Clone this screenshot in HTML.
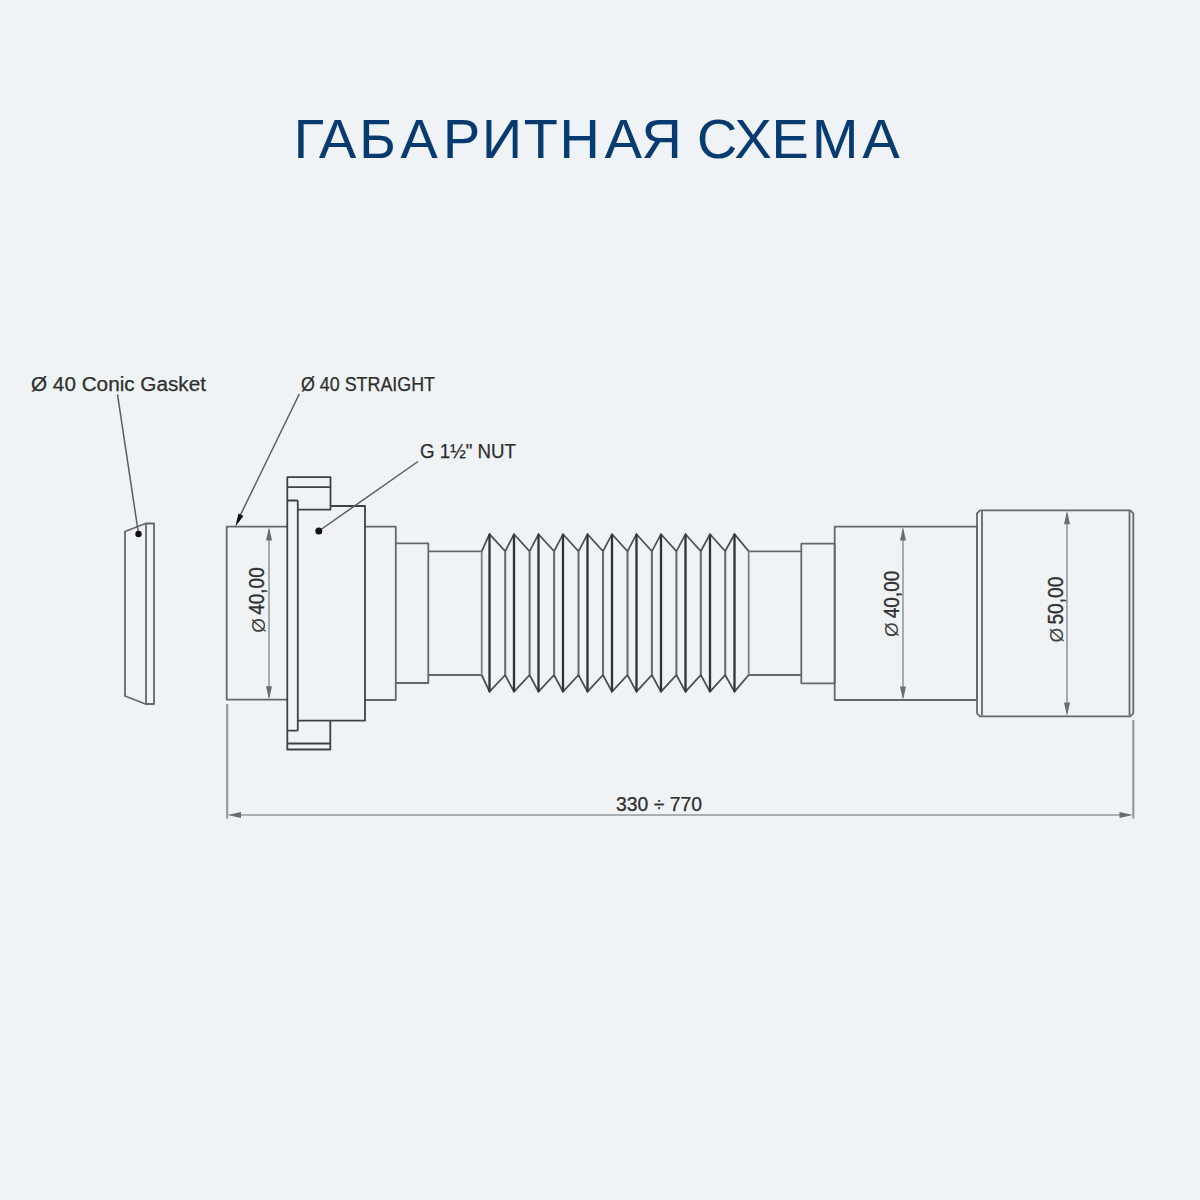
<!DOCTYPE html>
<html>
<head>
<meta charset="utf-8">
<style>
html,body{margin:0;padding:0;background:#eff3f6;}
body{width:1200px;height:1200px;overflow:hidden;position:relative;font-family:"Liberation Sans",sans-serif;}
svg{position:absolute;left:0;top:0;}
</style>
</head>
<body>
<svg width="1200" height="1200" viewBox="0 0 1200 1200">
<!-- title -->
<text x="293.8 319.1 359.3 400.5 442.9 482.0 523.7 559.6 604.8 641.5 681.5 696.9 734.6 771.6 812.1 862.5" y="158" font-family="Liberation Sans" font-size="55.7" fill="#073a6f" stroke="#073a6f" stroke-width="0.15">ГАБАРИТНАЯ СХЕМА</text>

<!-- labels -->
<g font-family="Liberation Sans" font-size="19.6" fill="#2e2e2e" stroke="#2e2e2e" stroke-width="0.25">
<text x="31" y="391" textLength="175" lengthAdjust="spacingAndGlyphs">Ø 40 Conic Gasket</text>
<text x="301" y="391" textLength="134" lengthAdjust="spacingAndGlyphs">Ø 40 STRAIGHT</text>
<text x="420" y="458" textLength="96" lengthAdjust="spacingAndGlyphs">G 1½" NUT</text>
<text x="616" y="810.5" textLength="86" lengthAdjust="spacingAndGlyphs">330 ÷ 770</text>
</g>

<!-- rotated dims -->
<g font-family="Liberation Sans" font-size="22" fill="#303030" stroke="#303030" stroke-width="0.35">
<text transform="translate(264.3,614.8) rotate(-90)" textLength="47.5" lengthAdjust="spacingAndGlyphs">40,00</text>
<text transform="translate(899,618.2) rotate(-90)" textLength="47.5" lengthAdjust="spacingAndGlyphs">40,00</text>
<text transform="translate(1063,624.6) rotate(-90)" textLength="48" lengthAdjust="spacingAndGlyphs">50,00</text>
</g>
<g font-family="Liberation Sans" font-size="19" fill="#444">
<text transform="translate(264.5,632.8) rotate(-90)">Ø</text>
<text transform="translate(898.3,637) rotate(-90)">Ø</text>
<text transform="translate(1062.5,642.4) rotate(-90)">Ø</text>
</g>

<!-- dimension & extension lines -->
<g fill="none" stroke="#94989a" stroke-width="1.6">
<line x1="269" y1="530" x2="269" y2="697"/>
<line x1="903" y1="530" x2="903" y2="697"/>
<line x1="1067" y1="514" x2="1067" y2="713"/>
<line x1="231" y1="815" x2="1129" y2="815"/>
</g>
<g fill="none" stroke="#94989a" stroke-width="2.1">
<line x1="227.2" y1="704" x2="227.2" y2="818.5"/>
<line x1="1133.3" y1="720" x2="1133.3" y2="818.5"/>
</g>

<!-- outlines -->
<g fill="none" stroke="#64686a" stroke-width="1.8" stroke-linejoin="round">
<!-- gasket -->
<path d="M125,531.5 L145.5,523.5 L154,523.5 L154,704 L145.5,704 L125,696 Z"/>
<line x1="146" y1="523.5" x2="146" y2="704"/>
<!-- left pipe -->
<path d="M287,526.7 L226.7,526.7 L226.7,699.7 L287,699.7"/>
<!-- after nut -->
<path d="M365,526.7 L395.8,526.7 L395.8,700 L365,700"/>
<path d="M395.8,543.3 L428.3,543.3 L428.3,683 L395.8,683"/>
<path d="M428.3,551.3 L481.7,551.3 M428.3,675 L481.7,675"/>
<!-- right side -->
<path d="M748.7,551.3 L801.3,551.3 M748.7,675 L801.3,675"/>
<path d="M801.3,543.7 L834.7,543.7 L834.7,683.3 L801.3,683.3 Z"/>
<path d="M834.7,526.7 L977,526.7 L977,700 L834.7,700 Z"/>
<path d="M980,510.3 L1130.3,510.3 L1133.3,513.3 L1133.3,713.3 L1130.3,716.3 L980,716.3 L977,713.3 L977,513.3 Z"/>
<line x1="982" y1="511" x2="982" y2="715.5"/>
<line x1="1129.5" y1="511" x2="1129.5" y2="715.5"/>
<path d="M481.7,551.3 V675.0 M748.7,551.3 V675.0" stroke="#7c8082"/>
</g>

<!-- nut (dark) -->
<g fill="none" stroke="#3e4244" stroke-width="1.8" stroke-linejoin="round">
<rect x="287.3" y="500.5" width="10.5" height="230.2" rx="1"/>
<path d="M287.3,500.5 L287.3,477.2 L330.5,477.2 L330.5,509.7 L297.8,509.7"/>
<line x1="287.3" y1="487.2" x2="330.5" y2="487.2"/>
<path d="M287.3,730.7 L287.3,749.5 L330.3,749.5 L330.3,720.7"/>
<line x1="287.3" y1="743.5" x2="330.3" y2="743.5"/>
<path d="M330.5,506 L365,506 L365,720.7 L297.8,720.7"/>
</g>

<!-- bellows -->
<g fill="none" stroke="#3e4244" stroke-width="1.8" stroke-linejoin="miter">
<path d="M481.7,551.3 L489.5,534.2 L505.2,551.3 L514.0,534.2 L529.6,551.3 L538.5,534.2 L554.1,551.3 L563.0,534.2 L578.5,551.3 L587.5,534.2 L603.0,551.3 L612.0,534.2 L627.5,551.3 L636.5,534.2 L651.9,551.3 L661.0,534.2 L676.4,551.3 L685.5,534.2 L700.8,551.3 L710.0,534.2 L725.2,551.3 L734.5,534.2 L748.7,551.3" stroke="#4c5052"/>
<path d="M481.7,675.0 L489.5,691.7 L505.2,675.0 L514.0,691.7 L529.6,675.0 L538.5,691.7 L554.1,675.0 L563.0,691.7 L578.5,675.0 L587.5,691.7 L603.0,675.0 L612.0,691.7 L627.5,675.0 L636.5,691.7 L651.9,675.0 L661.0,691.7 L676.4,675.0 L685.5,691.7 L700.8,675.0 L710.0,691.7 L725.2,675.0 L734.5,691.7 L748.7,675.0" stroke="#4c5052"/>
<path d="M489.5,534.2 V691.7 M514.0,534.2 V691.7 M538.5,534.2 V691.7 M563.0,534.2 V691.7 M587.5,534.2 V691.7 M612.0,534.2 V691.7 M636.5,534.2 V691.7 M661.0,534.2 V691.7 M685.5,534.2 V691.7 M710.0,534.2 V691.7 M734.5,534.2 V691.7" stroke="#303335" stroke-width="2.3"/>
<path d="M505.2,551.3 V675.0 M529.6,551.3 V675.0 M554.1,551.3 V675.0 M578.5,551.3 V675.0 M603.0,551.3 V675.0 M627.5,551.3 V675.0 M651.9,551.3 V675.0 M676.4,551.3 V675.0 M700.8,551.3 V675.0 M725.2,551.3 V675.0" stroke="#6a6e70" stroke-width="2.1"/>
</g>

<!-- arrows -->
<g fill="#6a6e70" stroke="none">
<path d="M269,527 L272,540.5 L266,540.5 Z"/>
<path d="M269,699.7 L272,686.2 L266,686.2 Z"/>
<path d="M903,527 L906,540.5 L900,540.5 Z"/>
<path d="M903,700 L906,686.5 L900,686.5 Z"/>
<path d="M1067,510.8 L1070,524.3 L1064,524.3 Z"/>
<path d="M1067,716 L1070,702.5 L1064,702.5 Z"/>
<path d="M227.5,815 L241,812 L241,818 Z"/>
<path d="M1133,815 L1119.5,812 L1119.5,818 Z"/>
</g>

<!-- leaders -->
<g stroke="#5a5e60" stroke-width="1.5" fill="none">
<line x1="117.5" y1="394.3" x2="138.5" y2="534"/>
<line x1="299.3" y1="394" x2="238" y2="520"/>
<line x1="418" y1="461.5" x2="318.8" y2="531"/>
</g>
<g fill="#111">
<circle cx="138.5" cy="534" r="3.2"/>
<circle cx="318.8" cy="531" r="3.5"/>
<path d="M235.3,526.5 L238.5,513.5 L243.5,516 Z"/>
</g>
</svg>
</body>
</html>
